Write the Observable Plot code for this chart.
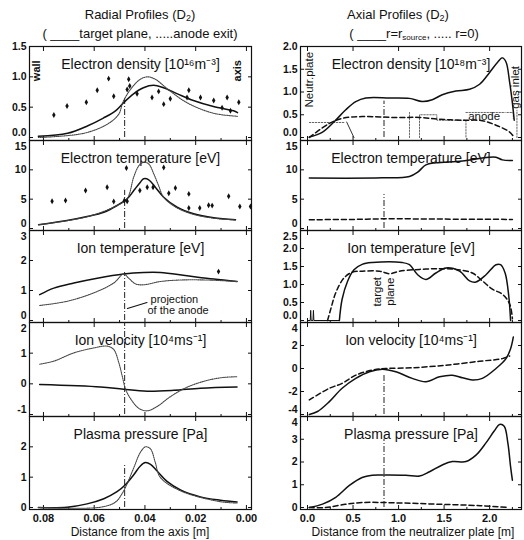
<!DOCTYPE html>
<html><head><meta charset="utf-8">
<script src="https://cdn.jsdelivr.net/npm/d3@7"></script>
<script src="https://cdn.jsdelivr.net/npm/@observablehq/plot@0.6"></script>
<style>
body{margin:0;background:#fff;}
#root{position:relative;width:524px;height:540px;overflow:hidden;font-family:"Liberation Sans",Arial,sans-serif;color:#111;background:#fff;}
.hdr{position:absolute;white-space:nowrap;transform:translateX(-50%);font-size:13px;line-height:14px;}
.hdr sub{line-height:0;vertical-align:-2px;}
.xlab{position:absolute;white-space:nowrap;transform:translateX(-50%);font-size:12px;line-height:13px;}
</style></head><body><div id="root"></div>
<script>
// ---------- Radial profiles (x = distance from axis [m]) ----------
const radialTitles = ["Electron density [10¹⁶m⁻³]","Electron temperature [eV]","Ion temperature [eV]","Ion velocity [10⁴ms⁻¹]","Plasma pressure [Pa]"];
const radialYDomains = [[0,1.5],[0,15],[0,3],[-1,2],[0,3]];
const radialYTicks = [[0,0.5,1,1.5],[0,5,10,15],[0,1,2,3],[-1,0,1,2],[0,1,2]];
const radialDecimals = [1,0,0,0,0];
const radialXTicks = [0.08,0.06,0.04,0.02,0.0];
const radialXMinor = [0.07,0.05,0.03,0.01];
const anodeProjectionX = 0.048;
const anodeProjectionSpan = [[0,0.65],[0,6.5],[0,1.6],[-1,2],[0,1.4]];

const radNeTarget = [[0.082,0.02],[0.0705,0.07],[0.0627,0.19],[0.0564,0.32],[0.0516,0.44],[0.0485,0.57],[0.0445,0.72],[0.0406,0.82],[0.0366,0.86],[0.0327,0.82],[0.0272,0.72],[0.0209,0.61],[0.013,0.51],[0.0051,0.44],[0.0035,0.41]];
const radNeAnode = [[0.082,0.0],[0.064,0.07],[0.0548,0.22],[0.0504,0.38],[0.0485,0.6],[0.045,0.83],[0.0418,0.96],[0.039,1.0],[0.0359,0.96],[0.0311,0.8],[0.0233,0.57],[0.013,0.40],[0.0035,0.35]];
const radNeMeasured = [[0.0759,0.37],[0.0707,0.52],[0.0631,0.58],[0.0588,0.78],[0.0543,0.97],[0.0523,0.68],[0.0464,0.96],[0.047,0.79],[0.046,0.85],[0.0431,0.72],[0.0372,0.66],[0.0346,0.76],[0.0326,0.55],[0.03,0.64],[0.0234,0.66],[0.0227,0.78],[0.0181,0.66],[0.0129,0.61],[0.0096,0.49],[0.0076,0.66],[0.0063,0.44],[0.003,0.58]];

const radTeTarget = [[0.0819,0.64],[0.0707,1.36],[0.0628,2.04],[0.0562,2.78],[0.051,3.92],[0.047,5.06],[0.0444,6.47],[0.0418,7.9],[0.0405,8.47],[0.0385,8.3],[0.0359,7.04],[0.0326,5.34],[0.0273,3.63],[0.0208,2.5],[0.0129,1.82],[0.0043,1.48]];
const radTeAnode = [[0.0819,0.64],[0.0628,2.0],[0.051,3.9],[0.047,5.1],[0.0444,8.8],[0.0424,10.7],[0.0405,11.3],[0.0385,11.0],[0.0365,9.3],[0.0346,7.3],[0.0326,5.3],[0.0273,3.5],[0.0208,2.4],[0.0129,1.75],[0.0043,1.45]];
const radTeMeasured = [[0.0766,4.65],[0.0713,4.77],[0.0634,6.47],[0.0549,7.04],[0.0523,4.6],[0.0481,4.77],[0.047,4.65],[0.0473,10.3],[0.042,6.47],[0.0391,7.04],[0.0368,7.04],[0.0326,10.4],[0.0306,6.0],[0.028,6.9],[0.0227,5.9],[0.0227,3.5],[0.0184,3.5],[0.0149,3.97],[0.0135,3.9],[0.007,5.5],[0.0026,3.75],[-0.0016,3.75]];

const radTiTarget = [[0.0815,0.86],[0.0759,1.08],[0.068,1.25],[0.0588,1.41],[0.0484,1.55],[0.0405,1.6],[0.0339,1.6],[0.0234,1.49],[0.0129,1.38],[0.0037,1.3]];
const radTiAnode = [[0.0815,0.5],[0.0707,0.64],[0.0602,0.92],[0.0523,1.25],[0.0484,1.55],[0.0464,1.41],[0.0437,1.22],[0.0405,1.19],[0.0339,1.3],[0.026,1.35],[0.0155,1.35],[0.0037,1.3]];
const radTiMeasured = [[0.011,1.63]];

const radViTarget = [[0.0815,-0.02],[0.0575,-0.1],[0.0484,-0.18],[0.0391,-0.24],[0.0286,-0.21],[0.0181,-0.14],[0.0037,-0.1]];
const radViAnode = [[0.0815,0.64],[0.0759,0.74],[0.068,1.01],[0.0602,1.17],[0.0549,1.23],[0.0523,1.12],[0.0503,0.69],[0.049,0.27],[0.0477,-0.16],[0.0457,-0.48],[0.0424,-0.8],[0.0391,-0.88],[0.0352,-0.74],[0.03,-0.42],[0.0234,-0.11],[0.0155,0.11],[0.0089,0.21],[0.0037,0.23]];

const radPTarget = [[0.082,0.0],[0.0707,0.01],[0.0628,0.12],[0.0562,0.29],[0.051,0.52],[0.0477,0.75],[0.0444,1.08],[0.0418,1.37],[0.0398,1.48],[0.0378,1.42],[0.0352,1.2],[0.0313,0.86],[0.026,0.58],[0.0181,0.35],[0.0102,0.24],[0.0037,0.18]];
const radPAnode = [[0.082,0.0],[0.0575,0.01],[0.0516,0.18],[0.049,0.46],[0.0472,0.75],[0.0444,1.31],[0.0418,1.82],[0.0398,2.0],[0.0378,1.93],[0.0359,1.48],[0.034,1.0],[0.026,0.55],[0.0102,0.19],[0.0037,0.15]];

// ---------- Axial profiles (x = distance from neutralizer plate [m]) ----------
const axialTitles = ["Electron density [10¹⁸m⁻³]","Electron temperature [eV]","Ion temperature [eV]","Ion velocity [10⁴ms⁻¹]","Plasma pressure [Pa]"];
const axialYDomains = [[0,2],[0,15],[0,2.5],[-4,4],[0,4]];
const axialYTicks = [[0,0.5,1,1.5,2],[0,5,10,15],[0,0.5,1,1.5,2,2.5],[-4,-2,0,2,4],[0,1,2,3,4]];
const axialDecimals = [1,0,1,0,0];
const axialXTicks = [0,0.5,1,1.5,2];
const axialXMinor = [0.25,0.75,1.25,1.75,2.25];
const targetPlaneX = 0.84;
const targetPlaneSpan = [[0,0.8],[0,5.8],null,[-4,-0.6],[0,3]];

const axNeSource = [[0.02,0.01],[0.165,0.12],[0.29,0.34],[0.42,0.61],[0.53,0.79],[0.64,0.87],[0.9,0.87],[1.12,0.86],[1.26,0.79],[1.37,0.83],[1.48,0.94],[1.63,1.02],[1.78,1.06],[1.89,1.17],[2.0,1.43],[2.09,1.66],[2.14,1.75],[2.18,1.66],[2.22,1.21],[2.25,0.76],[2.27,0.38]];
const axNeAxis = [[0.02,0.0],[0.24,0.31],[0.38,0.42],[0.6,0.46],[0.97,0.44],[1.23,0.44],[1.45,0.4],[1.7,0.38],[1.92,0.37],[2.07,0.27],[2.22,0.12],[2.26,0.03]];
const axGeometry = [[0.02,0.33,"a"],[0.4,0.33,"a"],[1.12,0.0,"b"],[1.12,0.55,"b"],[1.23,0.0,"c"],[1.23,0.5,"c"],[1.42,0.5,"c"],[1.42,0.38,"c"],[1.74,0.38,"c"],[1.74,0.0,"c"],[1.74,0.55,"d"],[2.17,0.55,"d"],[2.19,0.55,"e"],[2.26,0.55,"e"],[2.26,0.42,"e"],[2.3,0.0,"f"],[2.3,0.6,"f"]];
const axPlateEdge = [[0.43,0.34],[0.51,0.0]];

const axTeSource = [[0.02,8.6],[0.82,8.63],[1.12,8.86],[1.21,9.6],[1.3,10.85],[1.41,11.2],[1.7,11.5],[1.99,12.15],[2.07,12.15],[2.14,11.7],[2.25,11.6]];
const axTeAxis = [[0.02,1.5],[0.5,1.55],[0.84,1.65],[1.5,1.6],[2.25,1.55]];

const axTiSource = [[0.35,0.0],[0.38,0.59],[0.44,1.09],[0.51,1.41],[0.6,1.56],[0.71,1.61],[1.04,1.61],[1.12,1.55],[1.21,1.27],[1.3,1.14],[1.41,1.32],[1.52,1.46],[1.67,1.37],[1.78,1.1],[1.85,1.07],[1.96,1.27],[2.07,1.55],[2.12,1.55],[2.17,1.32],[2.21,0.68],[2.23,0.0]];
const axTiSpikes = [[0.0,0],[0.03,0],[0.035,0.28],[0.04,0],[0.06,0],[0.065,0.28],[0.07,0],[0.35,0]];
const axTiAxis = [[0.22,0],[0.26,0.36],[0.31,0.77],[0.4,1.18],[0.49,1.34],[0.6,1.37],[0.79,1.37],[0.9,1.3],[1.01,1.37],[1.23,1.42],[1.45,1.44],[1.63,1.42],[1.81,1.32],[1.92,1.1],[2.03,0.87],[2.14,0.73],[2.22,0.46],[2.25,0.05]];

const axViSource = [[0.02,-4.0],[0.11,-3.74],[0.24,-2.88],[0.38,-1.72],[0.53,-0.86],[0.68,-0.28],[0.82,-0.06],[0.97,-0.28],[1.15,-0.86],[1.3,-1.15],[1.45,-0.72],[1.59,-0.58],[1.7,-0.8],[1.81,-1.0],[1.92,-0.86],[2.07,0],[2.18,0.86],[2.23,1.72],[2.26,2.73]];
const axViAxis = [[0.02,-2.73],[0.24,-1.72],[0.38,-1.29],[0.53,-0.58],[0.71,-0.14],[0.86,0],[1.15,0.06],[1.52,0.29],[1.89,0.63],[2.14,0.86],[2.22,1.09]];

const axPSource = [[0.02,0],[0.165,0.15],[0.31,0.45],[0.46,0.97],[0.6,1.32],[0.71,1.42],[0.82,1.43],[1.08,1.42],[1.23,1.38],[1.34,1.57],[1.48,1.87],[1.59,2.02],[1.74,2.02],[1.85,2.3],[1.96,2.84],[2.05,3.36],[2.11,3.65],[2.16,3.57],[2.2,2.84],[2.23,1.8],[2.25,1.2]];
const axPAxis = [[0.02,0],[0.2,0.0],[0.38,0.12],[0.6,0.22],[1.0,0.2],[1.4,0.15],[1.9,0.08],[2.2,0.0]];

// annotation labels (data coordinates)
const radialLabels = [{x:0.0826,y:1.1,t:"wall"},{x:0.0035,y:1.1,t:"axis"}];
const anodeNote = [{x:0.0378,y:0.71,t:"projection"},{x:0.0390,y:0.33,t:"of the anode"}];
const anodeLeader = [[0.0469,0.40],[0.0392,0.60]];
const axialLabels = [{x:0.02,y:1.27,t:"Neutr.plate"},{x:2.28,y:1.1,t:"gas inlet"}];
const anodeText = [{x:1.94,y:0.46,t:"anode"}];
const targetText = [{x:0.83,y:0.8,t:"target\nplane"}];

// ---------- layout ----------
const FONT = '"Liberation Sans", Arial, Helvetica, sans-serif';
const root = document.getElementById("root");
const tops = [46,140,230,322,416], bottoms = [140,230,322,416,509];
const LEFT = {left:0, ml:29, mr:11, xDomain:[0.0855,-0.002], xTicks:radialXTicks, xMinor:radialXMinor, xFmt:d=>d.toFixed(2)};
const RIGHT = {left:262, ml:38, mr:3, xDomain:[-0.077,2.35], xTicks:axialXTicks, xMinor:axialXMinor, xFmt:d=>d.toFixed(1)};
const fmt = dec => d => dec ? d.toFixed(dec) : String(d);
const X = d => d[0], Y = d => d[1];
const solid = data => Plot.line(data, {x:X, y:Y, curve:"catmull-rom", stroke:"#111", strokeWidth:1.5, clip:true});
const dotted = data => Plot.line(data, {x:X, y:Y, curve:"catmull-rom", stroke:"#444", strokeWidth:1.1, strokeDasharray:"1,1", clip:true});
const dashed = data => Plot.line(data, {x:X, y:Y, curve:"catmull-rom", stroke:"#111", strokeWidth:1.5, strokeDasharray:"5,3", clip:true});
const measured = data => Plot.dot(data, {x:X, y:Y, r:1.8, symbol:"diamond", fill:"#111"});
const vline = (xv, span) => span ? [Plot.ruleX([{x:xv, y1:span[0], y2:span[1]}], {x:"x", y1:"y1", y2:"y2", stroke:"#222", strokeWidth:1, strokeDasharray:"6,2,1,2"})] : [];

function panel(col, row, yDomain, yTicks, dec, title, extra) {
  const mt = 14, mb = row === 4 ? 34 : 14;
  const h = bottoms[row] - tops[row];
  const none = () => "";
  const lab = {anchor: "left", tickSize: 0, tickPadding: 3, tickFormat: fmt(dec), fontSize: 10.5, fontWeight: "bold", label: null};
  const lo = yDomain[0], hi = yDomain[1];
  const mid = yTicks.filter(t => !(t === lo && row < 4) && !(t === hi && row > 0));
  const lowT = yTicks.filter(t => t === lo && row < 4);
  const highT = yTicks.filter(t => t === hi && row > 0);
  const plot = Plot.plot({
    width: 262, height: h + mt + mb,
    marginLeft: col.ml, marginRight: col.mr, marginTop: mt, marginBottom: mb,
    style: {fontFamily: FONT, overflow: "visible", background: "transparent", color: "#111"},
    x: {domain: col.xDomain},
    y: {domain: yDomain, insetBottom: row === 0 ? 3 : 2},
    marks: [
      Plot.frame({stroke: "#111", strokeWidth: 1.2}),
      Plot.axisY({ticks: yTicks, anchor: "left", tickSize: -4, tickFormat: none, label: null}),
      Plot.axisY({ticks: yTicks, anchor: "right", tickSize: -4, tickFormat: none, label: null}),
      Plot.axisY({...lab, ticks: mid}),
      ...(lowT.length ? [Plot.axisY({...lab, ticks: lowT, dy: -5})] : []),
      ...(highT.length ? [Plot.axisY({...lab, ticks: highT, dy: 6})] : []),
      Plot.axisX({ticks: col.xTicks, anchor: "bottom", tickSize: -4, tickPadding: 9, tickFormat: row === 4 ? col.xFmt : none, fontSize: 11, fontWeight: "bold", label: null}),
      Plot.axisX({ticks: col.xMinor, anchor: "bottom", tickSize: -2, tickFormat: none, label: null}),
      Plot.axisX({ticks: col.xTicks, anchor: "top", tickSize: -4, tickFormat: none, label: null}),
      Plot.text([title], {frameAnchor: "top", dy: 13, fontSize: 14, text: d => d, fill: "#111"}),
      ...extra
    ]
  });
  plot.style.position = "absolute";
  plot.style.left = col.left + "px";
  plot.style.top = (tops[row] - mt) + "px";
  root.appendChild(plot);
}

const radialSeries = [
  [solid(radNeTarget), dotted(radNeAnode), measured(radNeMeasured),
   Plot.text(radialLabels, {x:"x", y:"y", text:"t", rotate:-90, fontSize:11, fontWeight:"bold"})],
  [solid(radTeTarget), dotted(radTeAnode), measured(radTeMeasured)],
  [solid(radTiTarget), dotted(radTiAnode), measured(radTiMeasured),
   Plot.text(anodeNote, {x:"x", y:"y", text:"t", textAnchor:"start", fontSize:11}),
   Plot.line(anodeLeader, {x:X, y:Y, stroke:"#111", strokeWidth:1.2})],
  [solid(radViTarget), dotted(radViAnode)],
  [solid(radPTarget), dotted(radPAnode)]
];
const axialSeries = [
  [Plot.line(axGeometry, {x:d=>d[0], y:d=>d[1], z:d=>d[2], stroke:"#666", strokeWidth:1, strokeDasharray:"1.5,1.5"}),
   Plot.line(axPlateEdge, {x:X, y:Y, stroke:"#333", strokeWidth:1}),
   solid(axNeSource), dashed(axNeAxis),
   Plot.text(axialLabels, {x:"x", y:"y", text:"t", rotate:-90, fontSize:11.5}),
   Plot.text(anodeText, {x:"x", y:"y", text:"t", fontSize:11.5})],
  [solid(axTeSource), dashed(axTeAxis)],
  [Plot.line(axTiSpikes, {x:X, y:Y, stroke:"#111", strokeWidth:1}), solid(axTiSource), dashed(axTiAxis),
   Plot.text(targetText, {x:"x", y:"y", text:"t", rotate:-90, fontSize:11.5, lineHeight:1.15})],
  [solid(axViSource), dashed(axViAxis)],
  [solid(axPSource), dashed(axPAxis)]
];

for (let i = 0; i < 5; i++) {
  panel(LEFT, i, radialYDomains[i], radialYTicks[i], radialDecimals[i], radialTitles[i],
        [...vline(anodeProjectionX, anodeProjectionSpan[i]), ...radialSeries[i]]);
  panel(RIGHT, i, axialYDomains[i], axialYTicks[i], axialDecimals[i], axialTitles[i],
        [...vline(targetPlaneX, targetPlaneSpan[i]), ...axialSeries[i]]);
}

// headers and x-axis titles (HTML text)
const headers = [
  {x:140, y:8, html:"Radial Profiles (D<sub style='font-size:9px'>2</sub>)"},
  {x:140, y:27, html:"( ____target plane, .....anode exit)"},
  {x:398, y:8, html:"Axial Profiles (D<sub style='font-size:9px'>2</sub>)"},
  {x:414, y:27, html:"( ____r=r<sub style='font-size:8px'>source</sub>, ..... r=0)"}
];
for (const h of headers) {
  const d = document.createElement("div");
  d.className = "hdr"; d.style.left = h.x + "px"; d.style.top = h.y + "px"; d.innerHTML = h.html;
  root.appendChild(d);
}
const xTitles = [{x:140, t:"Distance from the axis [m]"},{x:413, t:"Distance from the neutralizer plate [m]"}];
for (const t of xTitles) {
  const d = document.createElement("div");
  d.className = "xlab"; d.style.left = t.x + "px"; d.style.top = "526px"; d.textContent = t.t;
  root.appendChild(d);
}
</script></body></html>
